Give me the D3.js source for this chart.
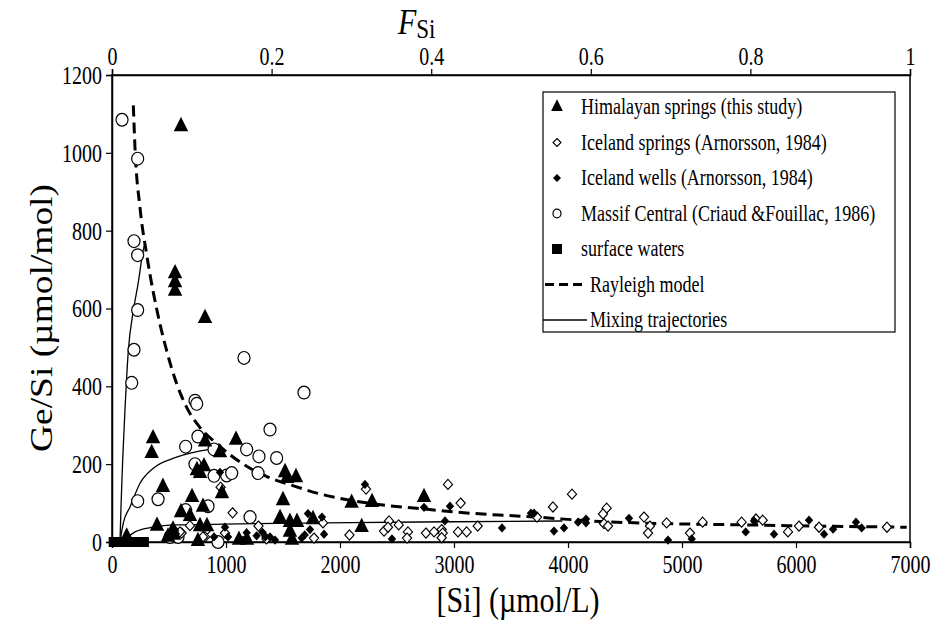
<!DOCTYPE html>
<html lang="en">
<head>
<meta charset="UTF-8">
<title>Ge/Si vs [Si]</title>
<script src="https://cdn.jsdelivr.net/npm/d3@7/dist/d3.min.js"></script>
<style>
  body { margin: 0; background: #fff; }
  svg text { font-family: "Liberation Serif", "DejaVu Serif", serif; fill: #000; }
</style>
</head>
<body>
<svg id="chart" width="935" height="622"></svg>
<script>
// ---- data: [Si] (umol/L), Ge/Si (umol/mol) ----
var himalayan = [
  [605,1068],[553,690],[553,667],[553,645],[816,575],
  [360,266],[348,228],[447,141],[395,41],
  [816,258],[1088,262],[947,230],
  [745,184],[772,177],[807,194],
  [965,125],[702,115],
  [605,76],[684,66],[798,90],
  [1518,179],[1614,166],[1535,164],[1500,107],
  [1474,61],[1561,51],[1623,51],[1763,58],
  [772,40],[833,40],[535,31],
  [491,13],[544,18],[754,2],[1114,5],[1184,5],[1561,26],[1579,5],
  [129,13],
  [2102,100],[2281,102],[2737,115],[2190,38]
];
var icelandSprings = [
  [953,141],[1058,75],[684,42],[611,23],[830,31],[816,13],[596,26],[798,13],[991,23],
  [1285,41],[1355,8],[1851,49],[1772,10],[2083,18],
  [2228,136],[2947,148],[3058,100],[2430,54],[2386,28],[2421,38],[2515,44],[2596,26],[2588,10],
  [2754,23],[2825,26],[2892,32],[2901,23],[2892,11],[3035,26],[3111,26],[3208,41],
  [4035,123],[3868,90],[4339,87],[4307,72],[4316,47],[4351,41],[3728,64],
  [4667,64],[4719,41],[4702,23],[4865,49],[5070,23],[5181,51],[5523,51],[5649,59],[5708,56],
  [5930,26],[6026,41],[6202,38],[6798,38]
];
var icelandWells = [
  [947,179],[1719,73],[1842,64],[553,31],[895,13],[991,38],[1018,13],[1149,5],[1181,24],
  [1269,16],[1320,25],[1345,13],[1386,13],[1430,5],[1664,10],[1690,18],[1737,32],[1860,20],
  [2219,148],[2737,89],[2965,92],[2921,54],[2456,8],[3421,36],[3675,74],[3702,74],[3877,28],
  [3965,36],[4088,51],[4158,59],[4158,49],[4535,61],[4877,5],[5085,8],[5559,26],[5632,54],
  [5807,20],[6114,56],[6246,20],[6325,33],[6526,51],[6576,36]
];
var massifCentral = [
  [88,1085],[225,985],[193,773],[225,737],[225,596],[193,494],[173,409],
  [1158,473],[1684,384],[728,363],[743,355],[1386,289],[754,271],[646,245],
  [895,238],[1181,238],[1289,220],[1444,216],[728,200],[895,170],[1006,171],[1050,177],[1281,177],
  [225,105],[404,110],[842,92],[646,82],[1211,64],[509,13],[579,13],[930,0]
];
var surfaceWaters = [[15,0],[50,0],[90,0],[130,0],[170,0],[210,0],[250,0],[280,0]];

// Rayleigh model curve
var rayleighSi = [187,202,246,304,421,480,567,655,772,918,1167,1368,1576,1807,2000,2377,2728,3140,3667,4339,5743,6971];
var rayleighGe = [1122,1011,858,739,560,491,407,346,294,253,197,167,146,125,112,95,85,74,65,52,43,38];

// mixing trajectories
var mix1Si = [70,80,95,114,143,187,228,272,290];
var mix1Ge = [0,100,220,340,491,594,662,747,770];
var mix2Si = [70,100,158,246,360,567,860,930];
var mix2Ge = [0,50,90,151,189,218,238,241];
var mix3Si = [110,202,360,567,974,2088,3000,3950];
var mix3Ge = [5,26,38,44,46,50,52,54];

var xTicks = [0,1000,2000,3000,4000,5000,6000,7000];
var yTicks = [0,200,400,600,800,1000,1200];
var fTicks = [0,0.2,0.4,0.6,0.8,1];

var legendItems = [
  {label: "Himalayan springs (this study)", kind: "tri"},
  {label: "Iceland springs (Arnorsson, 1984)", kind: "dOpen"},
  {label: "Iceland wells (Arnorsson, 1984)", kind: "dFill"},
  {label: "Massif Central (Criaud &Fouillac, 1986)", kind: "circ"},
  {label: "surface waters", kind: "sq"},
  {label: "Rayleigh model", kind: "dash"},
  {label: "Mixing trajectories", kind: "line"}
];

// ---- layout ----
var svg = d3.select("#chart");
var pLeft = 112, pRight = 910, pTop = 75, pBottom = 542;
var stretch = 1.3; // the original figure is drawn taller than wide

var x = d3.scaleLinear().domain([0,7000]).range([pLeft,pRight]);
var y = d3.scaleLinear().domain([0,1200]).range([pBottom,pTop]);
var xf = d3.scaleLinear().domain([0,1]).range([pLeft,pRight]);

// frame
svg.append("rect")
  .attr("x", pLeft).attr("y", pTop)
  .attr("width", pRight-pLeft).attr("height", pBottom-pTop)
  .attr("fill", "none").attr("stroke", "#000").attr("stroke-width", 1.5);

// axes
function styleAxis(g) {
  g.selectAll("path").attr("stroke-width", 1.5);
  g.selectAll("line").attr("stroke-width", 1.2);
  g.selectAll("text").attr("font-family", "Liberation Serif").attr("font-size", 20)
    .each(function(){
      var t = d3.select(this);
      var ty = +t.attr("y") || 0;
      t.attr("y", 0).attr("transform", "translate(0," + ty + ") scale(1," + stretch + ")");
    });
}
svg.append("g").attr("transform", "translate(0," + pBottom + ")")
  .call(d3.axisBottom(x).tickValues(xTicks).tickSize(6).tickPadding(7).tickFormat(d3.format("d")))
  .call(styleAxis);
svg.append("g").attr("transform", "translate(" + pLeft + ",0)")
  .call(d3.axisLeft(y).tickValues(yTicks).tickSize(6).tickPadding(4).tickFormat(d3.format("d")))
  .call(styleAxis);
svg.append("g").attr("transform", "translate(0," + pTop + ")")
  .call(d3.axisTop(xf).tickValues(fTicks).tickSize(6).tickPadding(4).tickFormat(function(d){ return String(d); }))
  .call(styleAxis);

// titles
svg.append("text").attr("transform", "translate(518,612) scale(1,1.2)").attr("text-anchor", "middle")
  .attr("font-size", 30).text("[Si] (\u00b5mol/L)");
svg.append("text").attr("transform", "translate(52,318) rotate(-90) scale(1.17,1)")
  .attr("text-anchor", "middle").attr("font-size", 32).text("Ge/Si (\u00b5mol/mol)");
var ft = svg.append("text").attr("transform", "translate(398,34) scale(1,1.2)").attr("font-size", 30);
ft.append("tspan").attr("font-style", "italic").text("F");
ft.append("tspan").attr("font-size", 23).attr("dy", 3).text("Si");

// curves
function curve(xs, ys) {
  return d3.line().x(function(d,i){ return x(xs[i]); }).y(function(d,i){ return y(ys[i]); })
    .curve(d3.curveMonotoneX)(xs);
}
var plot = svg.append("g");
[[mix1Si,mix1Ge],[mix2Si,mix2Ge],[mix3Si,mix3Ge]].forEach(function(m){
  plot.append("path").attr("d", curve(m[0], m[1]))
    .attr("fill", "none").attr("stroke", "#000").attr("stroke-width", 1.3);
});
plot.append("path").attr("d", curve(rayleighSi, rayleighGe))
  .attr("fill", "none").attr("stroke", "#000").attr("stroke-width", 3)
  .attr("stroke-dasharray", "11,6");

// markers
var triPath = d3.symbol().type(d3.symbolTriangle).size(90)();
function diamond(r) { return "M0," + (-r) + "L" + r + ",0L0," + r + "L" + (-r) + ",0Z"; }

plot.selectAll(".sw").data(surfaceWaters).enter().append("rect")
  .attr("x", function(d){ return x(d[0]) - 5; }).attr("y", function(d){ return y(d[1]) - 5; })
  .attr("width", 10).attr("height", 10).attr("fill", "#000");

plot.selectAll(".mc").data(massifCentral).enter().append("ellipse")
  .attr("cx", function(d){ return x(d[0]); }).attr("cy", function(d){ return y(d[1]); })
  .attr("rx", 6).attr("ry", 6.4).attr("fill", "#fff").attr("stroke", "#000").attr("stroke-width", 1.2);

plot.selectAll(".is").data(icelandSprings).enter().append("path")
  .attr("transform", function(d){ return "translate(" + x(d[0]) + "," + y(d[1]) + ") scale(1,1.1)"; })
  .attr("d", diamond(4.6)).attr("fill", "#fff").attr("stroke", "#000").attr("stroke-width", 1.1);

plot.selectAll(".iw").data(icelandWells).enter().append("path")
  .attr("transform", function(d){ return "translate(" + x(d[0]) + "," + y(d[1]) + ") scale(1,1.1)"; })
  .attr("d", diamond(4.2)).attr("fill", "#000");

plot.selectAll(".hs").data(himalayan).enter().append("path")
  .attr("transform", function(d){ return "translate(" + x(d[0]) + "," + y(d[1]) + ") scale(1,1.15)"; })
  .attr("d", triPath).attr("fill", "#000");

// legend
var lg = svg.append("g");
lg.append("rect").attr("x", 543).attr("y", 92).attr("width", 352).attr("height", 240)
  .attr("fill", "#fff").attr("stroke", "#000").attr("stroke-width", 1.2);
legendItems.forEach(function(it, i){
  var cy = 107 + i * 35.5;
  var g = lg.append("g");
  var tx = 581;
  if (it.kind === "tri") g.append("path").attr("transform", "translate(557," + cy + ") scale(1,1.15)").attr("d", d3.symbol().type(d3.symbolTriangle).size(60)()).attr("fill", "#000");
  if (it.kind === "dOpen") g.append("path").attr("transform", "translate(557," + cy + ")").attr("d", diamond(4)).attr("fill", "#fff").attr("stroke", "#000").attr("stroke-width", 1.1);
  if (it.kind === "dFill") g.append("path").attr("transform", "translate(557," + cy + ")").attr("d", diamond(4)).attr("fill", "#000");
  if (it.kind === "circ") g.append("ellipse").attr("cx", 557).attr("cy", cy).attr("rx", 4).attr("ry", 4.4).attr("fill", "#fff").attr("stroke", "#000").attr("stroke-width", 1.2);
  if (it.kind === "sq") g.append("rect").attr("x", 552).attr("y", cy - 5).attr("width", 10).attr("height", 10).attr("fill", "#000");
  if (it.kind === "dash") { g.append("line").attr("x1", 545).attr("x2", 587).attr("y1", cy).attr("y2", cy).attr("stroke", "#000").attr("stroke-width", 3).attr("stroke-dasharray", "9,5"); tx = 590; }
  if (it.kind === "line") { g.append("line").attr("x1", 543).attr("x2", 587).attr("y1", cy).attr("y2", cy).attr("stroke", "#000").attr("stroke-width", 1.3); tx = 590; }
  g.append("text").attr("transform", "translate(" + tx + "," + (cy + 7) + ") scale(1," + stretch + ")")
    .attr("font-size", 18).text(it.label);
});
</script>
</body>
</html>
